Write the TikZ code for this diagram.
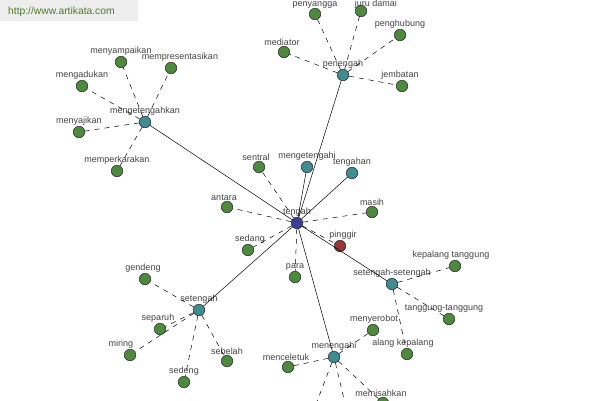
\documentclass[tikz,border=0pt]{standalone}
\usepackage{fontspec}
\setmainfont{Liberation Sans}
\definecolor{grn}{HTML}{4E8A3E}
\definecolor{tea}{HTML}{3F8C92}
\definecolor{blu}{HTML}{3A3E96}
\definecolor{rdd}{HTML}{963636}
\definecolor{lblc}{HTML}{444444}
\definecolor{hdr}{HTML}{EDEDED}
\definecolor{hdrt}{HTML}{4F7A2A}
\begin{document}
\begin{tikzpicture}[x=1pt,y=-1pt,
  nd/.style={circle, draw=black!85, line width=0.5pt, minimum size=11.5pt, inner sep=0pt},
  gr/.style={nd, fill=grn},
  tl/.style={nd, fill=tea},
  bl/.style={nd, fill=blu},
  rd/.style={nd, fill=rdd},
  lbl/.style={font=\fontsize{9}{9}\selectfont, text=lblc, inner sep=0.5pt},
  sl/.style={draw=black, line width=0.5pt},
  dl/.style={draw=black, line width=0.5pt, dash pattern=on 5pt off 5pt}]
\useasboundingbox (0,0) rectangle (600,400);
\clip (0,0) rectangle (600,400);
\fill[white] (0,0) rectangle (600,400);
% header
\node[fill=hdr, minimum width=138pt, minimum height=21pt, anchor=north west, inner sep=0pt] (hdrbox) at (0,0) {};
\node[anchor=west, font=\fontsize{10.3}{10.3}\selectfont, text=hdrt, inner sep=0pt] (hdrtxt) at (8,11.5) {http://www.artikata.com};

% center
\node[bl, label={[lbl]above:tengah}] (tengah) at (297,223) {};
\node[rd, label={[lbl,xshift=3pt]above:pinggir}] (pinggir) at (340,246) {};
\node[tl, label={[lbl]above:mengetengahi}] (mengetengahi) at (307,167) {};
\node[tl, label={[lbl]above:tengahan}] (tengahan) at (352,173) {};
\node[gr, label={[lbl,xshift=-3pt]above:sentral}] (sentral) at (259,167) {};
\node[gr, label={[lbl,xshift=-3pt]above:antara}] (antara) at (227,207) {};
\node[gr, label={[lbl]above:masih}] (masih) at (372,212) {};
\node[gr, label={[lbl,xshift=2pt]above:sedang}] (sedang) at (248,250) {};
\node[gr, label={[lbl]above:para}] (para) at (295,277) {};

% mengetengahkan group
\node[tl, label={[lbl]above:mengetengahkan}] (mengetengahkan) at (145,122) {};
\node[gr, label={[lbl]above:menyampaikan}] (menyampaikan) at (121,62) {};
\node[gr, label={[lbl,xshift=9pt]above:mempresentasikan}] (mempresentasikan) at (171,68) {};
\node[gr, label={[lbl]above:mengadukan}] (mengadukan) at (82,86) {};
\node[gr, label={[lbl]above:menyajikan}] (menyajikan) at (79,132) {};
\node[gr, label={[lbl]above:memperkarakan}] (memperkarakan) at (117,171) {};

% penengah group
\node[tl, label={[lbl]above:penengah}] (penengah) at (343,75) {};
\node[gr, label={[lbl,yshift=-1.5pt]above:penyangga}] (penyangga) at (315,14) {};
\node[gr, label={[lbl,xshift=15pt,yshift=-4.5pt]above:juru damai}] (jurudamai) at (361,11) {};
\node[gr, label={[lbl]above:penghubung}] (penghubung) at (400,35) {};
\node[gr, label={[lbl,xshift=-2pt]above:mediator}] (mediator) at (284,52) {};
\node[gr, label={[lbl,xshift=-2pt]above:jembatan}] (jembatan) at (402,86) {};

% setengah group
\node[tl, label={[lbl]above:setengah}] (setengah) at (199,310) {};
\node[gr, label={[lbl,xshift=-2pt]above:gendeng}] (gendeng) at (145,279) {};
\node[gr, label={[lbl,xshift=-2pt]above:separuh}] (separuh) at (160,329) {};
\node[gr, label={[lbl,xshift=-9pt]above:miring}] (miring) at (130,355) {};
\node[gr, label={[lbl]above:sedeng}] (sedeng) at (184,382) {};
\node[gr, label={[lbl]above:sebelah}] (sebelah) at (227,361) {};

% setengah-setengah group
\node[tl, label={[lbl]above:setengah-setengah}] (setsetengah) at (392,284) {};
\node[gr, label={[lbl,xshift=-4pt]above:kepalang tanggung}] (kepalang) at (455,266) {};
\node[gr, label={[lbl,xshift=-5pt]above:tanggung-tanggung}] (tanggung) at (449,319) {};
\node[gr, label={[lbl,xshift=-4pt]above:alang kepalang}] (alang) at (407,354) {};

% menengahi group
\node[tl, label={[lbl]above:menengahi}] (menengahi) at (334,357) {};
\node[gr, label={[lbl,xshift=1pt]above:menyerobot}] (menyerobot) at (373,330) {};
\node[gr, label={[lbl,xshift=-2pt]above:menceletuk}] (menceletuk) at (288,367) {};
\node[gr, label={[lbl,xshift=-2pt]above:memisahkan}] (memisahkan) at (383,403) {};
\coordinate (offa) at (310,420);
\coordinate (offb) at (349,420);

% solid
\draw[sl] (tengah) -- (mengetengahkan);
\draw[sl] (tengah) -- (penengah);
\draw[sl] (tengah) -- (mengetengahi);
\draw[sl] (tengah) -- (tengahan);
\draw[sl] (tengah) -- (setengah);
\draw[sl] (tengah) -- (menengahi);
\draw[sl] (tengah) -- (setsetengah);
% dashed
\foreach \n in {sentral,antara,masih,sedang,para,pinggir}
  \draw[dl] (tengah) -- (\n);
\foreach \n in {menyampaikan,mempresentasikan,mengadukan,menyajikan,memperkarakan}
  \draw[dl] (mengetengahkan) -- (\n);
\foreach \n in {penyangga,jurudamai,penghubung,mediator,jembatan}
  \draw[dl] (penengah) -- (\n);
\foreach \n in {gendeng,separuh,miring,sedeng,sebelah}
  \draw[dl] (setengah) -- (\n);
\foreach \n in {kepalang,tanggung,alang}
  \draw[dl] (setsetengah) -- (\n);
\foreach \n in {menyerobot,menceletuk,memisahkan}
  \draw[dl] (menengahi) -- (\n);
\draw[dl] (menengahi) -- (offa);
\draw[dl] (menengahi) -- (offb);
\end{tikzpicture}
\end{document}
